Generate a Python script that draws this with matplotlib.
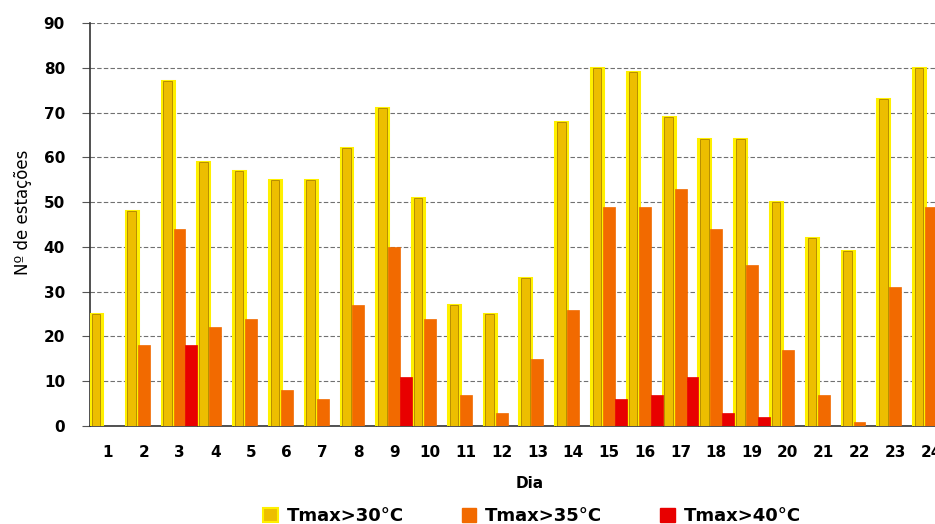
import numpy as np
import matplotlib
matplotlib.use("Agg")
import matplotlib.pyplot as plt
from matplotlib.patches import Patch

# dados
dias = list(range(1, 25))
tmax30 = [25, 48, 77, 59, 57, 55, 55, 62, 71, 51, 27, 25,
          33, 68, 80, 79, 69, 64, 64, 50, 42, 39, 73, 80]
tmax35 = [0, 18, 44, 22, 24, 8, 6, 27, 40, 24, 7, 3,
          15, 26, 49, 49, 53, 44, 36, 17, 7, 1, 31, 49]
tmax40 = [0, 0, 18, 0, 0, 0, 0, 0, 11, 0, 0, 0,
          0, 0, 6, 7, 11, 3, 2, 0, 0, 0, 0, 0]
nomes = ["Tmax>30°C", "Tmax>35°C", "Tmax>40°C"]

plt.rcParams['font.family'] = ['DejaVu Sans']

fig = plt.figure(figsize=(9.35, 5.24), dpi=100)
# eixo propositadamente mais largo que a figura (o original esta cortado a direita)
ax = fig.add_axes([90/935, 98/524, 859/935, 403/524])

x = np.array(dias)
w = 1/3
# serie amarela: borda amarela viva + linha interior escura
ax.bar(x - w, tmax30, width=w, color="#F2C200", edgecolor="#FFF000",
       linewidth=2.2, zorder=3)
ax.bar(x - w, tmax30, width=w*0.72, color="#EDBE00", edgecolor="#B88E00",
       linewidth=0.7, zorder=4)
ax.bar(x, tmax35, width=w, color="#F26A00", edgecolor="#F26A00",
       linewidth=0.5, zorder=3)
ax.bar(x + w, tmax40, width=w, color="#E80000", edgecolor="#E80000",
       linewidth=0.5, zorder=3)

ax.set_xlim(0.5, 24.5)
ax.set_ylim(0, 90)
ax.set_yticks(range(0, 91, 10))
ax.set_xticks(dias)
ax.set_xticks(np.arange(1.5, 24, 1), minor=True)

ax.yaxis.grid(True, linestyle=(0, (4, 2)), color="#707070", linewidth=0.8, zorder=0)
ax.set_axisbelow(True)

for s in ["top", "right"]:
    ax.spines[s].set_visible(False)
ax.spines["left"].set_color("#333333")
ax.spines["bottom"].set_color("#333333")
ax.spines["left"].set_linewidth(1.2)
ax.spines["bottom"].set_linewidth(1.2)

ax.tick_params(axis="x", which="major", length=0, pad=14, labelsize=11)
ax.tick_params(axis="x", which="minor", direction="in", length=4, color="#222222")
ax.tick_params(axis="y", direction="out", length=6, color="#555555", pad=12, labelsize=11)
for lab in ax.get_xticklabels() + ax.get_yticklabels():
    lab.set_fontweight("bold")

ax.set_xlabel("Dia", fontsize=11, fontweight="bold")
ax.xaxis.set_label_coords((530 - 90) / 859, -50 / 403)
ax.set_ylabel("Nº de estações", fontsize=12)
ax.yaxis.set_label_coords(-58 / 859, 0.53)

handles = [Patch(facecolor="#EDBE00", edgecolor="#FFF000", linewidth=1.5),
           Patch(facecolor="#F26A00", edgecolor="#F26A00"),
           Patch(facecolor="#E80000", edgecolor="#E80000")]
fig.legend(handles, nomes, loc="center", bbox_to_anchor=(532/935, 8/524),
           ncol=3, frameon=False, handlelength=0.8,
           handleheight=0.8, handletextpad=0.5, columnspacing=3.2,
           prop={"size": 13, "weight": "bold"})

fig.savefig("out.png", dpi=100)
